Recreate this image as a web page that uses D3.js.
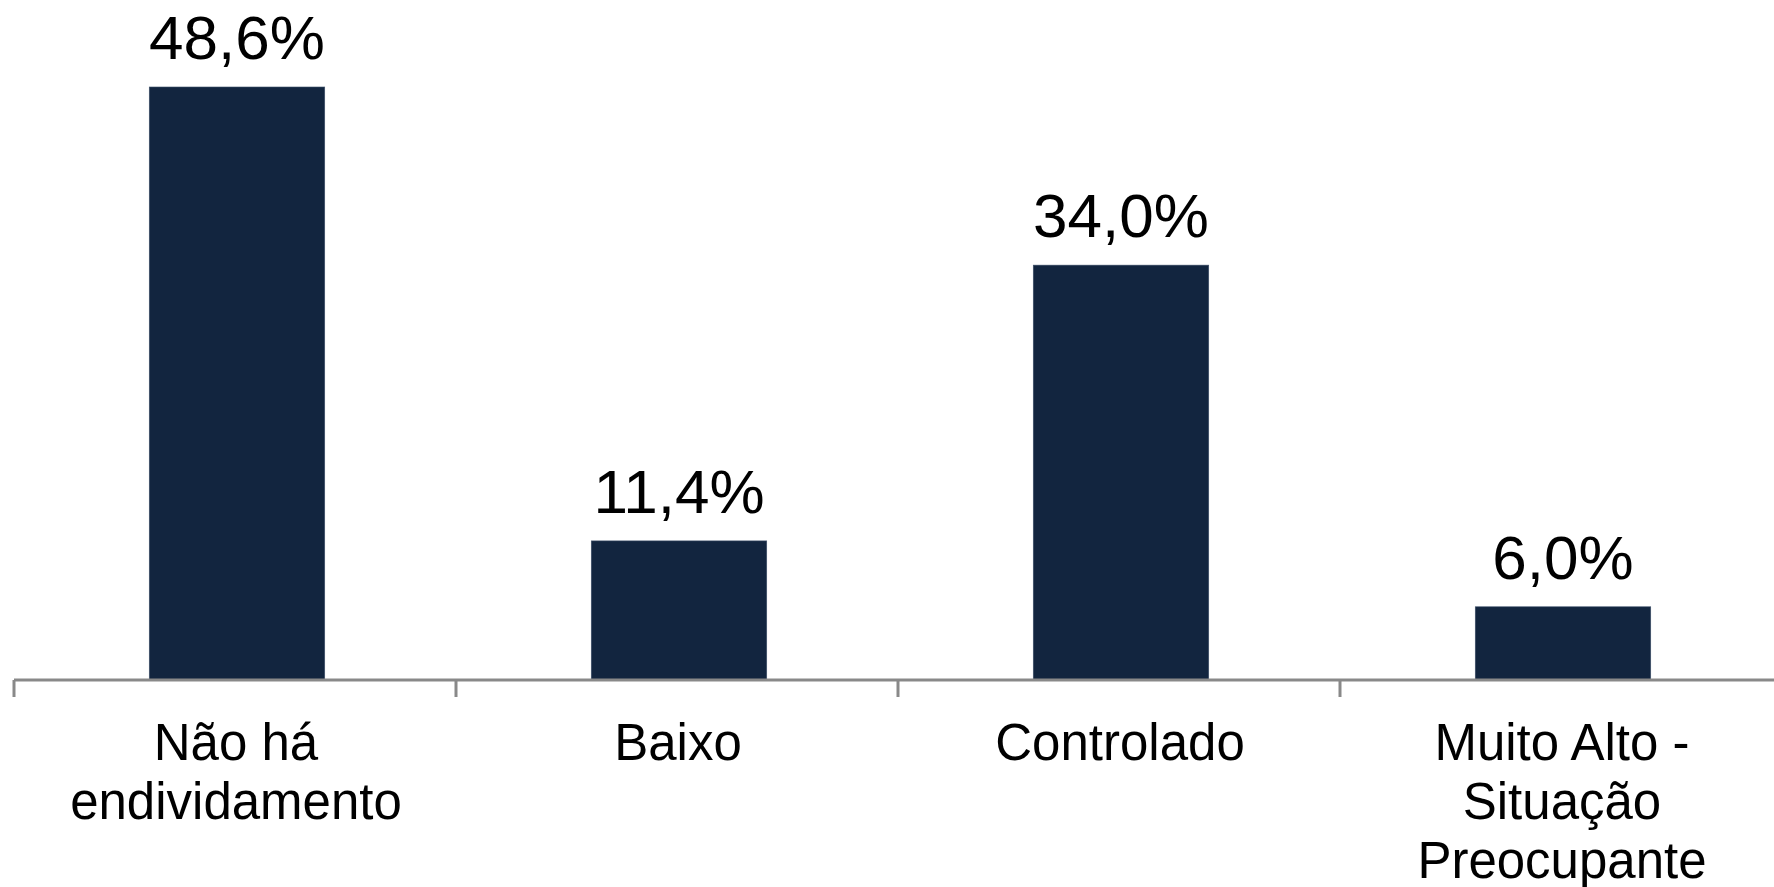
<!DOCTYPE html>
<html><head><meta charset="utf-8">
<script src="https://cdn.jsdelivr.net/npm/d3@7"></script>
<style>html,body{margin:0;padding:0;background:#fff;overflow:hidden}</style>
</head><body>
<svg id="chart" width="1774" height="887"></svg>
<script>
const categories = [["Não há","endividamento"],["Baixo"],["Controlado"],["Muito Alto -","Situação","Preocupante"]];
const categoryKeys = ["Não há endividamento","Baixo","Controlado","Muito Alto - Situação Preocupante"];
const values = [48.6, 11.4, 34.0, 6.0];
const valueLabels = ["48,6%","11,4%","34,0%","6,0%"];

const svg = d3.select("#chart");
const baseY = 680;
const xOuter = d3.scaleBand().domain(categoryKeys).range([14, 1782]).padding(0);
const xBar = d3.scaleBand().domain(categoryKeys).range([16, 1784]).paddingInner(0.603).paddingOuter(0.3015);
const y = d3.scaleLinear().domain([0, 48.6]).range([baseY, 87]);

svg.selectAll("rect.bar").data(values).join("rect")
  .attr("class","bar")
  .attr("x",(d,i)=>xBar(categoryKeys[i]))
  .attr("width",xBar.bandwidth())
  .attr("y",d=>y(d))
  .attr("height",d=>baseY-y(d))
  .attr("fill","#12253f")
  .attr("stroke","#3e5069").attr("stroke-width",0.6);

// axis
const axis = d3.axisBottom(xOuter).tickSize(0).tickFormat("");
const gAxis = svg.append("g").attr("transform",`translate(0,${baseY})`).call(axis);
gAxis.select(".domain").remove();
svg.append("line").attr("x1",14).attr("x2",1774).attr("y1",baseY).attr("y2",baseY)
  .attr("stroke","#898989").attr("stroke-width",3);
const tickPos = categoryKeys.map(k=>xOuter(k));
svg.selectAll("line.tick").data(tickPos).join("line").attr("class","tick")
  .attr("x1",d=>d).attr("x2",d=>d).attr("y1",baseY).attr("y2",697)
  .attr("stroke","#898989").attr("stroke-width",3);

// value labels
svg.selectAll("text.val").data(values).join("text").attr("class","val")
  .attr("x",(d,i)=>xBar(categoryKeys[i])+xBar.bandwidth()/2)
  .attr("y",d=>y(d)-28)
  .attr("text-anchor","middle")
  .style("font-family","'Liberation Sans', Arial, sans-serif")
  .style("font-size","62px").attr("fill","#000")
  .text((d,i)=>valueLabels[i]);

// category labels
const cl = svg.selectAll("text.cat").data(categories).join("text").attr("class","cat")
  .attr("text-anchor","middle")
  .style("font-family","'Liberation Sans', Arial, sans-serif")
  .style("font-size","51px").attr("fill","#000");
cl.each(function(lines,i){
  const cx = xOuter(categoryKeys[i]) + xOuter.bandwidth()/2 + 1;
  d3.select(this).selectAll("tspan").data(lines).join("tspan")
    .attr("x",cx).attr("y",(d,j)=>760 + j*59).text(d=>d);
});
</script>
</body></html>
